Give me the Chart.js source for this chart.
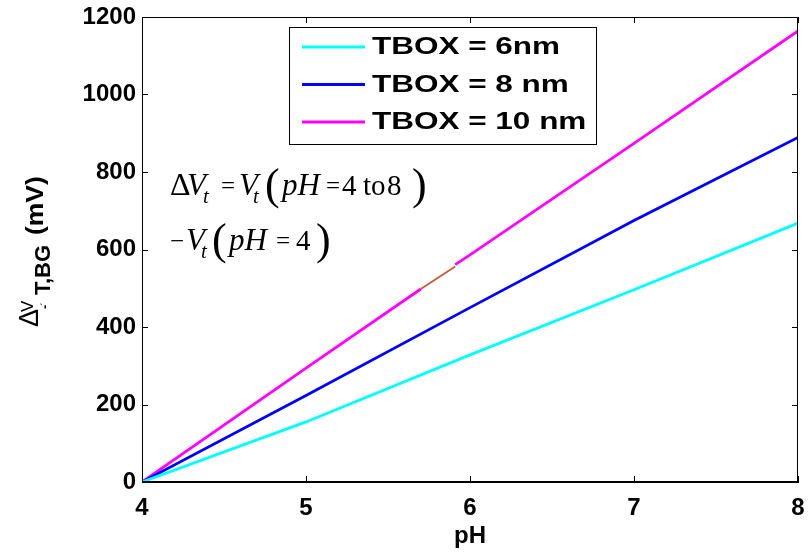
<!DOCTYPE html>
<html>
<head>
<meta charset="utf-8">
<script src="https://cdn.jsdelivr.net/npm/chart.js@4.4.1/dist/chart.umd.min.js"></script>
<style>
  html, body { margin: 0; padding: 0; background: #ffffff; }
  canvas { display: block; }
</style>
</head>
<body>
<canvas id="chart" width="808" height="554"></canvas>
<script>
// Tick values for both axes
const phTicks = [4, 5, 6, 7, 8];
const mvTicks = [0, 200, 400, 600, 800, 1000, 1200];

// Threshold-voltage shift (mV) versus pH for three buried-oxide thicknesses
const ph = [4, 5, 6, 7, 8];
const tbox6nm = [0, 155, 328, 496, 668];
const tbox8nm = [0, 223, 450, 675, 889];
const tbox10PH = [4, 5, 5.7, 5.8, 5.91, 6, 7, 8];
const tbox10nm = [0, 294, 498, null, 561, 586, 874, 1164];

// Short highlighted piece of the 10 nm curve
const markedPH = [5.7, 5.91];
const markedMV = [498, 556];

const seriesLabels = ['TBOX = 6nm', 'TBOX = 8 nm', 'TBOX = 10 nm'];
const seriesColors = ['#00ffff', '#0000ff', '#ff00ff'];
const markedColor = '#c25a3e';

const SANS = '"Liberation Sans", Arial, Helvetica, sans-serif';
const SERIF = '"Liberation Serif", "Times New Roman", serif';

const pts = (xs, ys) => xs.map((x, i) => ({ x: x, y: ys[i] }));

// Box frame with inward-pointing tick marks
const framePlugin = {
  id: 'frame',
  afterDraw(chart) {
    const { ctx, chartArea: a, scales } = chart;
    ctx.save();
    ctx.strokeStyle = '#000';
    ctx.lineWidth = 1;
    ctx.beginPath();
    ctx.moveTo(a.left, a.top + 0.5);
    ctx.lineTo(a.right, a.top + 0.5);
    ctx.moveTo(a.right - 0.5, a.top);
    ctx.lineTo(a.right - 0.5, a.bottom);
    ctx.stroke();
    ctx.lineWidth = 2;
    ctx.beginPath();
    ctx.moveTo(a.left, a.bottom);
    ctx.lineTo(a.right, a.bottom);
    ctx.stroke();
    ctx.lineWidth = 1;
    const len = 6;
    ctx.beginPath();
    scales.x.ticks.forEach(t => {
      const px = Math.round(scales.x.getPixelForValue(t.value)) + 0.5;
      ctx.moveTo(px, a.bottom); ctx.lineTo(px, a.bottom - len);
      ctx.moveTo(px, a.top); ctx.lineTo(px, a.top + len);
    });
    scales.y.ticks.forEach(t => {
      const py = Math.round(scales.y.getPixelForValue(t.value)) + 0.5;
      ctx.moveTo(a.left, py); ctx.lineTo(a.left + len, py);
      ctx.moveTo(a.right, py); ctx.lineTo(a.right - len, py);
    });
    ctx.stroke();
    ctx.restore();
  }
};

// Legend box inside the plot
const legendPlugin = {
  id: 'boxLegend',
  afterDraw(chart) {
    const { ctx, chartArea: a } = chart;
    const x0 = a.left + 147, y0 = a.top + 10, w = 307, h = 117;
    ctx.save();
    ctx.fillStyle = '#fff';
    ctx.fillRect(x0, y0, w, h);
    ctx.strokeStyle = '#000';
    ctx.lineWidth = 1;
    ctx.strokeRect(x0 + 0.5, y0 + 0.5, w, h);
    const items = chart.data.datasets.filter(d => d.label);
    items.forEach((d, i) => {
      const cy = y0 + 20 + i * 37.5;
      ctx.strokeStyle = d.borderColor;
      ctx.lineWidth = 2.8;
      ctx.beginPath();
      ctx.moveTo(x0 + 13, cy);
      ctx.lineTo(x0 + 76, cy);
      ctx.stroke();
      ctx.save();
      ctx.translate(x0 + 83, cy + 1);
      ctx.scale(1.34, 1);
      ctx.fillStyle = '#000';
      ctx.font = 'bold 23.5px ' + SANS;
      ctx.textBaseline = 'middle';
      ctx.textAlign = 'left';
      ctx.fillText(d.label, 0, 0);
      ctx.restore();
    });
    ctx.restore();
  }
};

// Axis titles
const titlePlugin = {
  id: 'axisTitles',
  afterDraw(chart) {
    const { ctx, chartArea: a } = chart;
    ctx.save();
    ctx.fillStyle = '#000';
    ctx.textBaseline = 'alphabetic';
    ctx.textAlign = 'center';
    ctx.font = 'bold 24px ' + SANS;
    ctx.fillText('pH', (a.left + a.right) / 2, 543);

    // Rotated y title: (u, v) in rotated frame -> screen (v, -u)
    ctx.rotate(-Math.PI / 2);
    ctx.textAlign = 'left';
    const piece = (t, y, x, font, sx) => {
      ctx.save();
      ctx.translate(-y, x);
      ctx.scale(sx || 1, 1);
      ctx.font = font;
      ctx.fillText(t, 0, 0);
      ctx.restore();
    };
    piece('\u0394', 327, 38, '27px ' + SANS);
    piece('V', 312, 33, '17px ' + SANS);
    piece('-', 309, 49, 'bold 13px ' + SANS);
    piece('\u02CF', 306, 40, '10px ' + SANS);
    piece('T,BG', 295, 50, 'bold 22px ' + SANS, 1.0);
    piece('(mV)', 235, 43, 'bold 23px ' + SANS, 1.15);
    ctx.restore();
  }
};

// Definition of the plotted shift, written as an inline formula
const formulaPlugin = {
  id: 'formula',
  afterDraw(chart) {
    const { ctx, chartArea: a } = chart;
    const x0 = a.left + 28;
    const big = '32px ' + SERIF, up = '29px ' + SERIF, eq = '25px ' + SERIF;
    const it = 'italic 31px ' + SERIF;
    const sub = 'italic 21px ' + SERIF, par = '44px ' + SERIF;
    const line1 = [
      ['\u0394', 0, big, 0], ['V', 17, it, 0], ['t', 33, sub, 8], ['=', 51, eq, -1],
      ['V', 69, it, 0], ['t', 83, sub, 8], ['(', 95, par, 4], ['pH', 112, it, 0],
      ['=', 156, eq, -1], ['4', 172, up, 0], ['to', 193, up, 0], ['8', 217, up, 0],
      [')', 242, par, 4]
    ];
    const line2 = [
      ['\u2212', 0, eq, -1], ['V', 16, it, 0], ['t', 31, sub, 8], ['(', 42, par, 4],
      ['pH', 59, it, 0], ['=', 106, eq, -1], ['4', 126, up, 0], [')', 146, par, 4]
    ];
    ctx.save();
    ctx.fillStyle = '#000';
    ctx.textBaseline = 'alphabetic';
    ctx.textAlign = 'left';
    const draw = (items, base) => items.forEach(([t, dx, f, dy]) => {
      ctx.font = f;
      ctx.fillText(t, x0 + dx, base + dy);
    });
    draw(line1, 195);
    draw(line2, 250);
    ctx.restore();
  }
};

const tickFont = { family: SANS, weight: 'bold', size: 24 };

new Chart(document.getElementById('chart').getContext('2d'), {
  type: 'line',
  data: {
    datasets: [
      { label: seriesLabels[0], data: pts(ph, tbox6nm), borderColor: seriesColors[0], borderWidth: 2.8 },
      { label: seriesLabels[1], data: pts(ph, tbox8nm), borderColor: seriesColors[1], borderWidth: 2.8 },
      { label: seriesLabels[2], data: pts(tbox10PH, tbox10nm), borderColor: seriesColors[2], borderWidth: 2.8, spanGaps: false },
      { label: '', data: pts(markedPH, markedMV), borderColor: markedColor, borderWidth: 1.8 }
    ]
  },
  options: {
    responsive: false,
    animation: false,
    devicePixelRatio: 1,
    elements: { point: { radius: 0 }, line: { tension: 0, fill: false } },
    layout: { padding: { top: 17, right: 10, left: 0, bottom: 0 } },
    plugins: { legend: { display: false }, tooltip: { enabled: false } },
    scales: {
      x: {
        type: 'linear', min: 4, max: 8,
        afterBuildTicks: s => { s.ticks = phTicks.map(v => ({ value: v })); },
        afterFit: s => { s.height = 72; s.paddingLeft = 0; s.paddingRight = 0; },
        grid: { drawOnChartArea: false, drawTicks: false },
        border: { display: true, color: '#000', width: 1 },
        ticks: { padding: 12, color: '#000', font: tickFont, maxRotation: 0, callback: v => String(v) }
      },
      y: {
        type: 'linear', min: 0, max: 1200,
        afterBuildTicks: s => { s.ticks = mvTicks.map(v => ({ value: v })); },
        afterFit: s => { s.width = 142; s.paddingTop = 0; s.paddingBottom = 0; },
        grid: { drawOnChartArea: false, drawTicks: false },
        border: { display: true, color: '#000', width: 1 },
        ticks: { padding: 6, color: '#000', font: tickFont, callback: v => String(v) }
      }
    }
  },
  plugins: [framePlugin, legendPlugin, titlePlugin, formulaPlugin]
});
</script>
</body>
</html>
